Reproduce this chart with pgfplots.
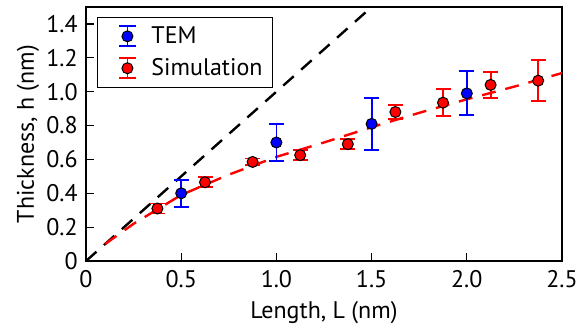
\documentclass[border=0pt]{standalone}
\usepackage{pgfplots}
\pgfplotsset{compat=1.18}
\usepackage{fontspec}
\setmainfont{PT Sans}
\begin{document}
\begin{tikzpicture}
\begin{axis}[
  scale only axis, width=238pt, height=127pt,
  xmin=0, xmax=2.5, ymin=0, ymax=1.5,
  axis line style={line width=1.4pt},
  tick style={line width=0.6pt, black},
  tick align=inside, major tick length=4pt,
  xtick pos=bottom, ytick pos=left,
  xtick={0,0.5,1,1.5,2,2.5}, xticklabels={0,0.5,1.0,1.5,2.0,2.5},
  ytick={0,0.2,0.4,0.6,0.8,1.0,1.2,1.4}, yticklabels={0,0.2,0.4,0.6,0.8,1.0,1.2,1.4},
  ticklabel style={font=\fontsize{12}{14}\selectfont},
  xticklabel style={anchor=center, yshift=-9pt},
  yticklabel style={anchor=east, inner sep=0pt, xshift=-4pt},
  label style={font=\fontsize{12}{14}\selectfont},
  xlabel={Length, L (nm)}, ylabel={Thickness, h (nm)},
  xlabel style={at={(axis description cs:0.5,-0.2047)}, anchor=center},
  ylabel style={at={(axis description cs:-0.1218,0.5)}, anchor=center},
  legend style={at={(0.023,0.961)}, anchor=north west, draw=black, line width=0.5pt,
    font=\fontsize{12}{14}\selectfont, row sep=2pt, inner xsep=3pt, inner ysep=2.5pt,
    cells={anchor=west}},
  legend cell align=left,
]
\addplot[black, line width=1.2pt, dash pattern=on 7pt off 5pt, forget plot] coordinates {(0,0) (1.6,1.6)};
\addplot[red, line width=1.2pt, dash pattern=on 7pt off 5pt, forget plot] coordinates {
(0.1,0.1) (0.25,0.22) (0.5,0.39) (0.75,0.51) (1.0,0.615) (1.25,0.70) (1.5,0.79) (1.75,0.875) (2.0,0.955) (2.25,1.03) (2.5,1.11)};
\addplot[blue, line width=0.9pt, only marks, mark=*, mark size=2.75pt,
  mark options={fill=blue, draw=black, line width=0.5pt},
  error bars/.cd, y dir=both, y explicit,
  error bar style={blue, line width=0.9pt},
  error mark options={rotate=90, mark size=3.75pt, blue, line width=0.9pt},
  /pgfplots/legend image code/.code={
    \path[draw=none, fill=none] (0pt,0pt) rectangle (22pt,0.1pt);
    \draw[blue, line width=0.9pt] (12pt,-5pt) -- (12pt,5pt) (7.8pt,-5pt) -- (16.2pt,-5pt) (7.8pt,5pt) -- (16.2pt,5pt);
    \fill[blue, draw=black, line width=0.5pt] (12pt,0pt) circle (2.75pt);}]
  coordinates {(0.5,0.40) +- (0,0.08) (1.0,0.70) +- (0,0.11) (1.5,0.81) +- (0,0.155) (2.0,0.99) +- (0,0.13)};
\addlegendentry{TEM}
\addplot[red, line width=0.9pt, only marks, mark=*, mark size=2.75pt,
  mark options={fill=red, draw=black, line width=0.5pt},
  error bars/.cd, y dir=both, y explicit,
  error bar style={red, line width=0.9pt},
  error mark options={rotate=90, mark size=3.75pt, red, line width=0.9pt},
  /pgfplots/legend image code/.code={
    \path[draw=none, fill=none] (0pt,0pt) rectangle (22pt,0.1pt);
    \draw[red, line width=0.9pt] (12pt,-5pt) -- (12pt,5pt) (7.8pt,-5pt) -- (16.2pt,-5pt) (7.8pt,5pt) -- (16.2pt,5pt);
    \fill[red, draw=black, line width=0.5pt] (12pt,0pt) circle (2.75pt);}]
  coordinates {(0.375,0.31) +- (0,0.03) (0.625,0.465) +- (0,0.03) (0.875,0.585) +- (0,0.02) (1.125,0.625) +- (0,0.03) (1.375,0.69) +- (0,0.03) (1.625,0.88) +- (0,0.04) (1.875,0.935) +- (0,0.08) (2.125,1.04) +- (0,0.075) (2.375,1.065) +- (0,0.12)};
\addlegendentry{Simulation}
\end{axis}
\pgfresetboundingbox
\path (current axis.south west) ++(-43pt,-34pt) coordinate (bbA);
\path (current axis.north east) ++(7.5pt,3.5pt) coordinate (bbB);
\useasboundingbox (bbA) rectangle (bbB);
\end{tikzpicture}
\end{document}
